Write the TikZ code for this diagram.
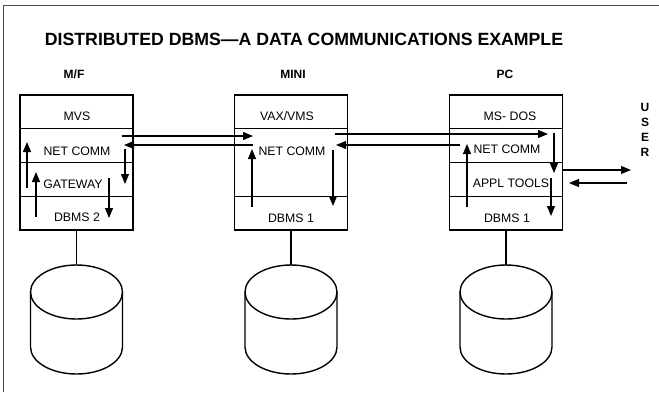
\documentclass[tikz,border=0pt]{standalone}
\usepackage{fontspec}
\setmainfont{Liberation Sans}
\usetikzlibrary{arrows.meta}

\tikzset{
	layer/.style={draw, line width=1.2pt, minimum width=113pt, minimum height=33.75pt, inner sep=0pt},
	txt/.style={anchor=base, inner sep=0pt, font=\fontsize{12.3}{14}\selectfont},
	head/.style={anchor=base, inner sep=0pt, font=\fontsize{12}{13}\selectfont\bfseries},
	flow/.style={line width=1.1pt, -{Triangle[length=10pt,width=8pt]}},
	disk/.style={line width=1.4pt},
}

\begin{document}
\begin{tikzpicture}[x=1pt, y=-1pt]
	\useasboundingbox (0,0) rectangle (659,392);
	\draw[line width=0.8pt, black!70] (3,392) -- (3,5) -- (659,5);
	
	\node[anchor=base, inner sep=0pt, font=\fontsize{17.7}{20}\selectfont\bfseries] (title) at (304,45) {DISTRIBUTED DBMS\textemdash A DATA COMMUNICATIONS EXAMPLE};
	
	\node[head] (mf) at (74,78) {M/F};
	\node[head] (mini) at (293,78) {MINI};
	\node[head] (pc) at (505,78) {PC};
	
	% mainframe
	\node[layer] (mvs) at (76.5,111.9) {};
	\node[layer] (mfnet) at (76.5,145.6) {};
	\node[layer] (gateway) at (76.5,179.4) {};
	\node[layer] (dbmstwo) at (76.5,213.1) {};
	
	% mini
	\node[layer] (vaxvms) at (291,111.9) {};
	\node[layer, minimum height=67.5pt] (mininet) at (291,162.5) {};
	\node[layer] (minidbms) at (291,213.1) {};
	
	% pc
	\node[layer] (msdos) at (506,111.9) {};
	\node[layer] (pcnet) at (506,145.6) {};
	\node[layer] (tools) at (506,179.4) {};
	\node[layer] (pcdbms) at (506,213.1) {};
	
	\node[txt] (t-mvs) at (77,120) {MVS};
	\node[txt] (t-mfnet) at (77,155) {NET COMM};
	\node[txt] (t-gateway) at (73,188) {GATEWAY};
	\node[txt] (t-dbmstwo) at (77,221) {DBMS 2};
	
	\node[txt] (t-vaxvms) at (287,120) {VAX/VMS};
	\node[txt] (t-mininet) at (292,155) {NET COMM};
	\node[txt] (t-minidbms) at (291,222) {DBMS 1};
	
	\node[txt] (t-msdos) at (510,120) {MS- DOS};
	\node[txt] (t-pcnet) at (507,153) {NET COMM};
	\node[txt] (t-tools) at (511,187) {APPL TOOLS};
	\node[txt] (t-pcdbms) at (507,222) {DBMS 1};
	
	\node[anchor=base, inner sep=0pt, align=center, font=\fontsize{12}{14.7}\selectfont\bfseries] (user) at (645,156) {U\\S\\E\\R};
	
	% message paths
	\foreach \i/\sx/\sy/\ex/\ey in {1/122/136/253/136, 2/253/145/124/145, 3/125/149/125/184,
		4/109/178/109/218, 5/36/217/36/172, 6/27/188/27/142, 7/252/207/252/149,
		8/333/150/333/206, 9/335/134/548/134, 10/460/145/336/145, 11/467/207/467/144,
		12/554/133/554/173, 13/551/178/551/216, 14/563/170/631/170, 15/627/183/569/183}
	{
		\coordinate (s\i) at (\sx,\sy);
		\coordinate (e\i) at (\ex,\ey);
		\draw[flow] (s\i) -- (e\i);
	}
	
	% disks
	\foreach \cx/\n/\db in {76.5/1/dbmstwo, 291/2/minidbms, 506/3/pcdbms}
	{
		\coordinate (disk\n) at (\cx,265);
		\draw[line width=1.1pt] (\db.south) -- (disk\n);
		\draw[disk] (\cx,292) ellipse [x radius=46, y radius=27];
		\draw[disk] (\cx-46,292) -- (\cx-46,347) arc[start angle=180, end angle=0, x radius=46, y radius=27] -- (\cx+46,292);
	}
	
\end{tikzpicture}
\end{document}
